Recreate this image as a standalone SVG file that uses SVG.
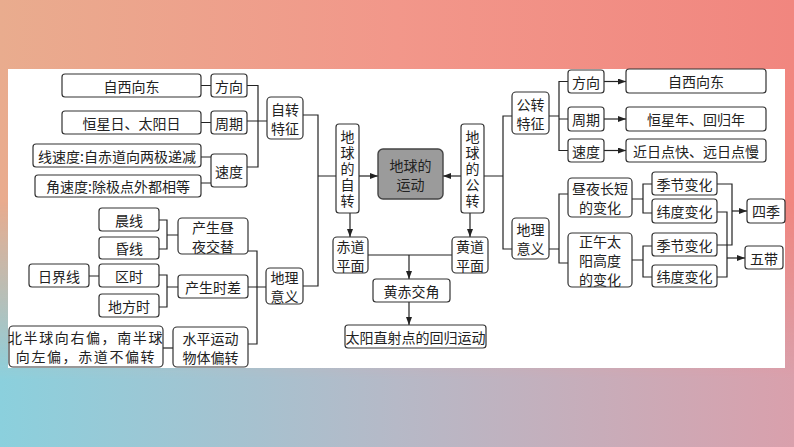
<svg xmlns="http://www.w3.org/2000/svg" width="794" height="447" viewBox="0 0 794 447">
<defs>
<linearGradient id="gTop" x1="0" y1="0" x2="1" y2="0">
<stop offset="0" stop-color="#E9AC8E"/>
<stop offset="0.5" stop-color="#F2978A"/>
<stop offset="1" stop-color="#F1867F"/>
</linearGradient>
<linearGradient id="gBot" x1="0" y1="0" x2="1" y2="0">
<stop offset="0" stop-color="#8BD0DD"/>
<stop offset="0.5" stop-color="#B6B9C7"/>
<stop offset="1" stop-color="#D9A0AC"/>
</linearGradient>
<linearGradient id="gFade" x1="0" y1="0" x2="0" y2="1">
<stop offset="0" stop-color="#000"/>
<stop offset="0.45" stop-color="#000"/>
<stop offset="0.85" stop-color="#fff"/>
<stop offset="1" stop-color="#fff"/>
</linearGradient>
<mask id="mFade"><rect x="0" y="0" width="794" height="447" fill="url(#gFade)"/></mask>
<marker id="arr" viewBox="0 0 8 6" refX="8" refY="3" markerWidth="8" markerHeight="6" markerUnits="userSpaceOnUse" orient="auto">
<path d="M0,0 L8,3 L0,6 Z" fill="#222"/>
</marker>
<style>
.b{fill:#fff;stroke:#333;stroke-width:1.2}
.c{fill:#9b9b9b;stroke:#444;stroke-width:1.4}
.t{font-family:"Noto Sans CJK SC","Noto Sans CJK TC",sans-serif;font-size:14px;fill:#222;text-anchor:middle;dominant-baseline:central}
.v{writing-mode:vertical-rl;letter-spacing:2px}
.l{fill:none;stroke:#222;stroke-width:1.2}
.a{fill:none;stroke:#222;stroke-width:1.2;marker-end:url(#arr)}
</style>
</defs>
<rect x="0" y="0" width="794" height="447" fill="url(#gTop)"/>
<rect x="0" y="0" width="794" height="447" fill="url(#gBot)" mask="url(#mFade)"/>
<rect x="8" y="69" width="777" height="299" fill="#fff"/>

<g id="connectors">
<path class="l" d="M201,85.5H211 M201,122.5H211 M201,157H211 M201,183H211"/>
<path class="l" d="M247,85.5H258V167H247 M247,121H267"/>
<path class="l" d="M303,115H318V286H303 M318,176H336"/>
<path class="l" d="M159,220H167V249H159 M167,235H178"/>
<path class="l" d="M89,276H99 M159,275H167V307H159 M167,287H178"/>
<path class="l" d="M163,348H173"/>
<path class="l" d="M248,251H257V344H248 M248,287H266"/>
<path class="a" d="M359,176H378"/>
<path class="a" d="M461,176H443"/>
<path class="l" d="M484,176H503 M512,116H503V249H512"/>
<path class="a" d="M350,213V237"/>
<path class="a" d="M470,213V237"/>
<path class="l" d="M368,255H452"/>
<path class="a" d="M409,255V279"/>
<path class="a" d="M409,302V325"/>
<path class="l" d="M549,116H559 M568,81.5H559V150.5H568 M559,119H568"/>
<path class="a" d="M604,81.5H626"/>
<path class="a" d="M604,119H626"/>
<path class="a" d="M604,150.5H626"/>
<path class="l" d="M549,249H559 M568,194H559V263H568"/>
<path class="l" d="M632,199H643 M652,184H643V213H652"/>
<path class="l" d="M632,260H643 M652,246H643V277H652"/>
<path class="l" d="M717,184H732V245H717"/>
<path class="a" d="M732,211H747"/>
<path class="l" d="M717,212H727V277H717"/>
<path class="a" d="M727,258H745"/>
</g>

<g id="n_zxxd_l"><rect class="b" x="62" y="74" width="139" height="23" rx="3"/><text class="t" x="131.5" y="85.5">自西向东</text></g>
<g id="n_fx_l"><rect class="b" x="211" y="74" width="36" height="23" rx="3"/><text class="t" x="229" y="85.5">方向</text></g>
<g id="n_hxr"><rect class="b" x="62" y="111" width="139" height="23" rx="3"/><text class="t" x="131.5" y="122.5">恒星日、太阳日</text></g>
<g id="n_zq_l"><rect class="b" x="211" y="111" width="36" height="23" rx="3"/><text class="t" x="229" y="122.5">周期</text></g>
<g id="n_xsd"><rect class="b" x="33" y="144" width="168" height="23" rx="3"/><text class="t" x="117" y="155.5">线速度:自赤道向两极递减</text></g>
<g id="n_jsd"><rect class="b" x="35" y="175" width="166" height="22" rx="3"/><text class="t" x="118" y="186">角速度:除极点外都相等</text></g>
<g id="n_sd_l"><rect class="b" x="211" y="154" width="36" height="33" rx="3"/><text class="t" x="229" y="170.5">速度</text></g>
<g id="n_zztz"><rect class="b" x="267" y="97" width="36" height="42" rx="4"/><text class="t" x="285" y="108.5">自转</text><text class="t" x="285" y="127.5">特征</text></g>

<g id="n_cx"><rect class="b" x="99" y="208" width="60" height="23" rx="3"/><text class="t" x="129" y="219.5">晨线</text></g>
<g id="n_hx"><rect class="b" x="99" y="237" width="60" height="22" rx="3"/><text class="t" x="129" y="248">昏线</text></g>
<g id="n_zyjt"><rect class="b" x="178" y="218" width="70" height="36" rx="4"/><text class="t" x="213" y="226.5">产生昼</text><text class="t" x="213" y="245.5">夜交替</text></g>
<g id="n_rjx"><rect class="b" x="29" y="264" width="60" height="23" rx="3"/><text class="t" x="59" y="275.5">日界线</text></g>
<g id="n_qs"><rect class="b" x="99" y="264" width="60" height="23" rx="3"/><text class="t" x="129" y="275.5">区时</text></g>
<g id="n_dfs"><rect class="b" x="99" y="294" width="60" height="23" rx="3"/><text class="t" x="129" y="305.5">地方时</text></g>
<g id="n_sc"><rect class="b" x="178" y="275" width="70" height="23" rx="3"/><text class="t" x="213" y="286.5">产生时差</text></g>
<g id="n_spyd"><rect class="b" x="173" y="327" width="75" height="40" rx="4"/><text class="t" x="210.5" y="337.5">水平运动</text><text class="t" x="210.5" y="356.5">物体偏转</text></g>
<g id="n_bbq"><rect class="b" x="9" y="326" width="154" height="41" rx="4"/><text class="t" x="86" y="337" letter-spacing="1.6">北半球向右偏，南半球</text><text class="t" x="86" y="356" letter-spacing="1.6">向左偏，赤道不偏转</text></g>
<g id="n_dlyy_l"><rect class="b" x="266" y="268" width="37" height="36" rx="4"/><text class="t" x="284.5" y="276.5">地理</text><text class="t" x="284.5" y="295.5">意义</text></g>

<g id="n_dqzz"><rect class="b" x="336" y="124" width="23" height="89" rx="3"/><text class="t v" x="347.5" y="169.5">地球的自转</text></g>
<g id="n_dqyd"><rect class="c" x="378" y="149" width="65" height="50" rx="5"/><text class="t" x="410.5" y="164.5">地球的</text><text class="t" x="410.5" y="183.5">运动</text></g>
<g id="n_dqgz"><rect class="b" x="461" y="124" width="23" height="89" rx="3"/><text class="t v" x="472.5" y="169.5">地球的公转</text></g>
<g id="n_cdpm"><rect class="b" x="333" y="237" width="35" height="36" rx="4"/><text class="t" x="350.5" y="245.5">赤道</text><text class="t" x="350.5" y="264.5">平面</text></g>
<g id="n_hdpm"><rect class="b" x="452" y="237" width="36" height="36" rx="4"/><text class="t" x="470" y="245.5">黄道</text><text class="t" x="470" y="264.5">平面</text></g>
<g id="n_hcjj"><rect class="b" x="373" y="279" width="77" height="23" rx="3"/><text class="t" x="411.5" y="290.5">黄赤交角</text></g>
<g id="n_tyzsd"><rect class="b" x="345" y="325" width="141" height="23" rx="3"/><text class="t" x="415.5" y="336.5">太阳直射点的回归运动</text></g>

<g id="n_gztz"><rect class="b" x="512" y="92" width="37" height="42" rx="4"/><text class="t" x="530.5" y="103.5">公转</text><text class="t" x="530.5" y="122.5">特征</text></g>
<g id="n_fx_r"><rect class="b" x="568" y="70" width="36" height="23" rx="3"/><text class="t" x="586" y="81.5">方向</text></g>
<g id="n_zq_r"><rect class="b" x="568" y="107" width="36" height="24" rx="3"/><text class="t" x="586" y="119">周期</text></g>
<g id="n_sd_r"><rect class="b" x="568" y="139" width="36" height="23" rx="3"/><text class="t" x="586" y="150.5">速度</text></g>
<g id="n_zxxd_r"><rect class="b" x="626" y="69" width="140" height="24" rx="3"/><text class="t" x="696" y="81">自西向东</text></g>
<g id="n_hxn"><rect class="b" x="626" y="107" width="140" height="24" rx="3"/><text class="t" x="696" y="119">恒星年、回归年</text></g>
<g id="n_jrd"><rect class="b" x="626" y="139" width="140" height="23" rx="3"/><text class="t" x="696" y="150.5">近日点快、远日点慢</text></g>
<g id="n_dlyy_r"><rect class="b" x="512" y="218" width="37" height="41" rx="4"/><text class="t" x="530.5" y="229">地理</text><text class="t" x="530.5" y="248">意义</text></g>
<g id="n_zycd"><rect class="b" x="568" y="178" width="64" height="39" rx="4"/><text class="t" x="600" y="188">昼夜长短</text><text class="t" x="600" y="207">的变化</text></g>
<g id="n_zwtygd"><rect class="b" x="568" y="233" width="64" height="54" rx="4"/><text class="t" x="600" y="241">正午太</text><text class="t" x="600" y="260">阳高度</text><text class="t" x="600" y="279">的变化</text></g>
<g id="n_jjbh1"><rect class="b" x="652" y="172" width="65" height="23" rx="3"/><text class="t" x="684.5" y="183.5">季节变化</text></g>
<g id="n_wdbh1"><rect class="b" x="652" y="199" width="65" height="24" rx="3"/><text class="t" x="684.5" y="211">纬度变化</text></g>
<g id="n_jjbh2"><rect class="b" x="652" y="233" width="65" height="23" rx="3"/><text class="t" x="684.5" y="244.5">季节变化</text></g>
<g id="n_wdbh2"><rect class="b" x="652" y="265" width="65" height="22" rx="3"/><text class="t" x="684.5" y="276">纬度变化</text></g>
<g id="n_sj"><rect class="b" x="747" y="199" width="38" height="24" rx="3"/><text class="t" x="766" y="211">四季</text></g>
<g id="n_wd"><rect class="b" x="745" y="246" width="38" height="23" rx="3"/><text class="t" x="764" y="257.5">五带</text></g>
</svg>
